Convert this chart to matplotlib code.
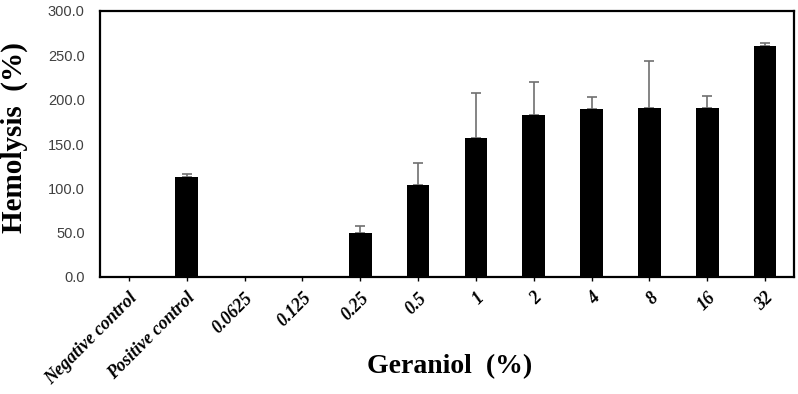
import matplotlib
matplotlib.use("Agg")
import matplotlib.pyplot as plt
import numpy as np

categories = ["Negative control", "Positive control", "0.0625", "0.125", "0.25",
              "0.5", "1", "2", "4", "8", "16", "32"]
values = [0.0, 112.7, 0.0, 0.0, 49.2, 103.7, 156.7, 183.0, 189.0, 190.9, 190.9, 260.8]
err_up = [0.0, 3.1, 0.0, 0.0, 8.6, 24.5, 50.7, 37.2, 13.6, 52.2, 13.2, 2.7]
yticks = [0, 50, 100, 150, 200, 250, 300]

fig = plt.figure(figsize=(7.98, 3.94), dpi=100)
ax = fig.add_axes([100/798, 1-277/394, 694/798, 266/394])

x = np.arange(len(categories))
ax.bar(x, values, width=0.39, color="black", zorder=2)
lower = np.zeros(len(err_up))
ax.errorbar(x, values, yerr=[lower, err_up], fmt="none", ecolor="#707070",
            elinewidth=1.2, capsize=3.5, capthick=1.2, zorder=1)

ax.set_xlim(-0.5, 11.5)
ax.set_ylim(0, 300)
ax.set_yticks(yticks)
ax.set_yticklabels([f"{v:.1f}" for v in yticks], family="Liberation Sans",
                   fontsize=10.5, color="#404040")
ax.tick_params(axis="y", length=0, pad=11)
ax.set_xticks(x)
ax.set_xticklabels(categories, rotation=45, ha="right", rotation_mode="anchor",
                   family="Liberation Serif", fontweight="bold", fontstyle="italic",
                   fontsize=13)
ax.tick_params(axis="x", length=3, width=1, direction="out", pad=6)

for s in ax.spines.values():
    s.set_linewidth(1.6)

ax.set_ylabel("Hemolysis  (%)", family="Liberation Serif", fontweight="bold",
              fontsize=21)
ax.yaxis.set_label_coords(-0.104, 0.523)
ax.set_xlabel("Geraniol  (%)", family="Liberation Serif", fontweight="bold",
              fontsize=20)
ax.xaxis.set_label_coords(0.504, -0.29)

fig.savefig("out.png", dpi=100)
